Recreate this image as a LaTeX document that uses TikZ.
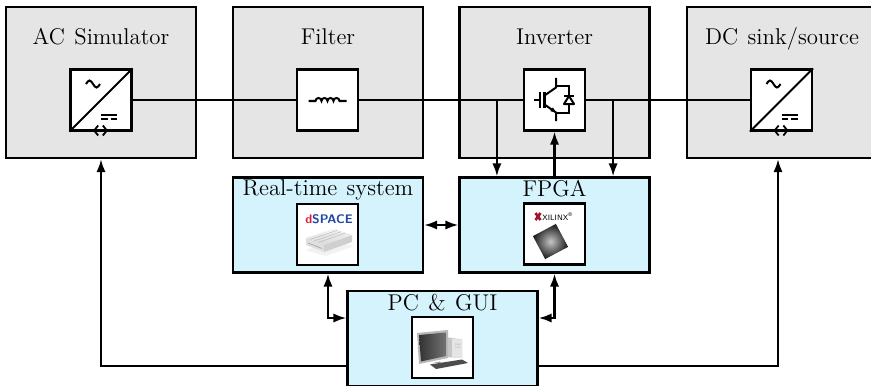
\documentclass[tikz,border=0pt]{standalone}
\usetikzlibrary{arrows.meta,calc}
\definecolor{unitgray}{RGB}{229,229,229}
\definecolor{ctrlblue}{RGB}{212,243,252}
\definecolor{dsred}{RGB}{215,25,60}
\definecolor{dsblue}{RGB}{30,70,165}
\definecolor{xred}{RGB}{165,20,45}
\begin{document}
\begin{tikzpicture}[x=0.5pt,y=-0.5pt,
  unit/.style={draw,line width=1.1pt,fill=unitgray,minimum width=95pt,minimum height=75.5pt,inner sep=0pt},
  ctrl/.style={draw,line width=1.1pt,fill=ctrlblue,minimum width=95pt,minimum height=47.5pt,inner sep=0pt},
  symbox/.style={draw,line width=1.1pt,fill=white,minimum size=30.5pt,inner sep=0pt},
  title/.style={anchor=base,font=\fontsize{11.4}{13}\selectfont,inner sep=0pt},
  wire/.style={line width=1.1pt},
  sig/.style={line width=1.1pt,-{Latex[length=6.5pt,width=4.6pt]}},
  bisig/.style={line width=1.1pt,{Latex[length=6.5pt,width=4.6pt]}-{Latex[length=6.5pt,width=4.6pt]}},
  glyph/.style={line width=1pt},
  pics/acdc/.style={code={
    % AC side: sine wave
    \draw[glyph] (-15,-16) sin (-11.5,-19.5) cos (-8,-16) sin (-4.5,-12.5) cos (-1,-16);
    % DC side: solid over dashed line
    \draw[glyph] (0,14.5) -- (16,14.5);
    \draw[glyph] (0,18.5) -- (6.5,18.5) (9.5,18.5) -- (16,18.5);
    % bidirectional power flow
    \draw[line width=0.9pt,{Straight Barb[length=2pt,width=5pt]}-{Straight Barb[length=2pt,width=5pt]}] (-8,30.5) -- (7,30.5);
  }},
]
\useasboundingbox (0,0) rectangle (871,385);

% ---------- power stage ----------
\node[unit] (ac)   at (101,82.5)   {};
\node[unit] (filt) at (328,82.5)   {};
\node[unit] (inv)  at (554.5,82.5) {};
\node[unit] (dc)   at (782,82.5)   {};

\node[title] (actitle)   at (101,45)   {AC\hspace{1pt} Simulator};
\node[title] (filttitle) at (328,45)   {Filter};
\node[title] (invtitle)  at (554.5,45) {Inverter};
\node[title] (dctitle)   at (782,45)   {DC\hspace{1pt} sink/source};

\node[symbox] (acc) at (101,100)   {};
\node[symbox] (fc)  at (327.5,100) {};
\node[symbox] (ic)  at (554.5,100) {};
\node[symbox] (dcc) at (781.5,100) {};

% AC/DC converter symbols
\draw[glyph] (acc.south west) -- (acc.north east);
\pic at (acc) {acdc};
\draw[glyph] (dcc.south west) -- (dcc.north east);
\pic at (dcc) {acdc};

% inductor
\draw[glyph] (308.5,101) -- (315.5,101)
  arc (180:360:3) arc (180:360:3) arc (180:360:3) arc (180:360:3)
  -- (346.5,101);

% IGBT with antiparallel diode
\begin{scope}[shift={(554.5,100)}]
  \draw[glyph] (-20.5,0) -- (-14.5,0);
  \draw[glyph] (-14.5,-8) -- (-14.5,8);
  \draw[line width=1.3pt] (-10,-8) -- (-10,8);
  \draw[glyph] (-10,-4.5) -- (1.5,-12.5) -- (1.5,-22);
  \draw[glyph] (-10,4.5) -- (1.5,12.5) -- (1.5,21);
  \fill (1.5,12.5) -- (-4.2,11.2) -- (-1.6,7.4) -- cycle;
  \draw[glyph] (1.5,-13.5) -- (14.5,-13.5) -- (14.5,13) -- (1.5,13);
  \draw[glyph,fill=white,line join=round] (9.5,4) -- (19.5,4) -- (14.5,-4) -- cycle;
  \draw[glyph] (9.5,-4) -- (19.5,-4);
\end{scope}

% ---------- control stage ----------
\node[ctrl] (rt)   at (328,225)   {};
\node[ctrl] (fpga) at (554.5,225) {};
\node[ctrl] (pc)   at (442.5,338.5) {};

\node[title] (rttitle) at (328,195)   {Real-time\hspace{1pt} system};
\node[title] (fptitle) at (554.5,196.5) {FPGA};
\node[title] (pctitle) at (442.5,310) {PC\hspace{1pt} \&\hspace{1pt} GUI};

\node[symbox] (rtimg) at (327.5,234.5) {};
\node[symbox] (fpimg) at (554.5,234)   {};
\node[symbox] (pcimg) at (442.5,347.5) {};

% real-time target
\node[inner sep=0pt,font=\fontsize{6.2}{7}\sffamily\bfseries] (dslogo) at (329,219.5)
  {\textcolor{dsred}{d}\textcolor{dsblue}{SPACE}};
\fill[gray!10] (305,250) -- (326,256) -- (354,246) -- (333,241) -- cycle;
\fill[gray!25] (306,238) -- (324,245) -- (324,252) -- (306,245) -- cycle;
\fill[gray!38] (324,245) -- (352,235) -- (352,242) -- (324,252) -- cycle;
\shade[top color=gray!8,bottom color=gray!30] (306,238) -- (334,228.5) -- (352,235) -- (324,245) -- cycle;
\draw[gray!50,line width=0.3pt] (310,239.5) -- (337,230.5) (314,241) -- (341,231.8) (318,242.5) -- (345,233.2);
\draw[gray!65,line width=0.4pt] (308,243) -- (322,248.5);

% FPGA chip
\draw[xred,line width=1.3pt] (535.5,213) -- (540.5,220) (540.5,213) -- (535.5,220);
\node[anchor=west,inner sep=0pt,font=\fontsize{3.9}{4}\sffamily] (xlx) at (542,216.8)
  {XILINX\textsuperscript{\textregistered}};
\shade[inner color=gray!45,outer color=black!90,rotate around={28:(550.5,241.5)}]
  (537.5,228.5) rectangle (563.5,254.5);

% personal computer
\fill[gray!45] (445,337) -- (462,339.5) -- (462,358) -- (445,357) -- cycle;
\fill[gray!20] (452,339) -- (462,339.5) -- (462,358) -- (452,357.5) -- cycle;
\draw[gray!60,line width=0.3pt] (455,344) -- (460,344.3) (455,347) -- (460,347.3);
\fill[gray!55] (417,333) -- (448,330) -- (448,358) -- (419,364) -- cycle;
\shade[left color=black!80,right color=black!55] (419,335) -- (446,332.5) -- (446,356) -- (421,361.5) -- cycle;
\fill[black!70] (430,364.5) -- (462,359.5) -- (468,363) -- (436,369) -- cycle;
\fill[black!40] (433,363) -- (440,361.5) -- (441,363) -- cycle;

% ---------- connections ----------
\draw[wire] (acc.east) -- (fc.west);
\draw[wire] (fc.east) -- (ic.west);
\draw[wire] (ic.east) -- (dcc.west);

\coordinate (tapl) at ($(ic.west)+(-26,0)$);
\coordinate (tapr) at ($(ic.east)+(27,0)$);
\draw[sig] (tapl) -- (tapl |- fpga.north);
\draw[sig] (tapr) -- (tapr |- fpga.north);
\draw[sig] (fpga.north) -- (ic.south);

\draw[bisig] (rt.east) -- (rt.east -| fpga.west);
\draw[bisig] (rt.south) |- ($(pc.west)+(0,-20.5)$);
\draw[bisig] (fpga.south) |- ($(pc.east)+(0,-20.5)$);

\draw[sig] ($(pc.west)+(0,27.5)$) -| (ac.south);
\draw[sig] ($(pc.east)+(0,27.5)$) -| ([xshift=-2pt]dc.south);
\end{tikzpicture}
\end{document}
